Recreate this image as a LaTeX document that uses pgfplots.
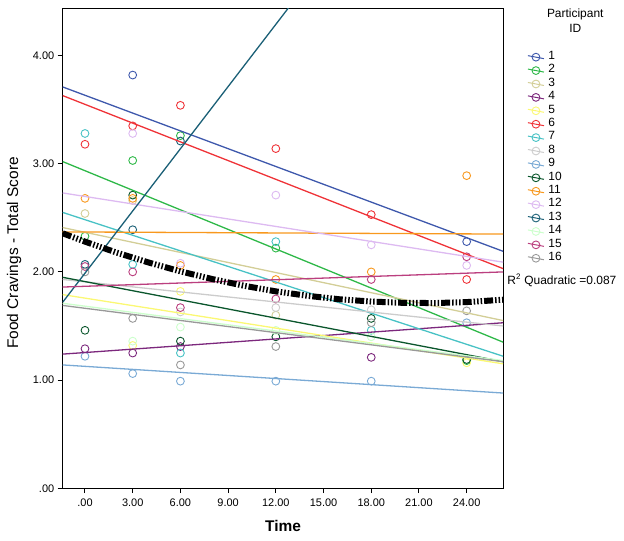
\documentclass[border=0pt]{standalone}
\usepackage{fontspec}
\setmainfont{Liberation Sans}
\usepackage{pgfplots}
\pgfplotsset{compat=1.18}

\definecolor{c1}{HTML}{3E58AC}
\definecolor{c2}{HTML}{2EB848}
\definecolor{c3}{HTML}{D3CE97}
\definecolor{c4}{HTML}{7C287D}
\definecolor{c5}{HTML}{FBF873}
\definecolor{c6}{HTML}{EF3338}
\definecolor{c7}{HTML}{48C2C5}
\definecolor{c8}{HTML}{CCCCCC}
\definecolor{c9}{HTML}{7AAAD5}
\definecolor{c10}{HTML}{0A562C}
\definecolor{c11}{HTML}{F8981D}
\definecolor{c12}{HTML}{DDBAF1}
\definecolor{c13}{HTML}{1A5F76}
\definecolor{c14}{HTML}{CCFFCC}
\definecolor{c15}{HTML}{BB3F7F}
\definecolor{c16}{HTML}{999999}

\pgfplotsset{
  pmark/.style={color=#1, only marks, mark=o, mark size=3.9bp,
    mark options={line width=0.9bp},
    legend image code/.code={\draw[mark repeat=2,mark phase=2,##1,sharp plot,line width=1bp]
      plot coordinates {(0bp,1.5bp) (8bp,0bp) (16bp,-1.5bp)};}},
  pline/.style={color=#1, line width=1.3bp, no marks, forget plot},
}

\begin{document}
\begin{tikzpicture}
\begin{axis}[
  scale only axis,
  width=440.3bp, height=480bp,
  xmin=-1.4, xmax=26.3,
  ymin=0, ymax=4.44,
  clip mode=individual,
  axis line style={black, line width=1bp},
  tick pos=left,
  tick align=outside,
  major tick length=5bp,
  tick style={black, line width=1bp},
  xtick={0,3,6,9,12,15,18,21,24},
  xticklabels={.00,3.00,6.00,9.00,12.00,15.00,18.00,21.00,24.00},
  ytick={0,1,2,3,4},
  yticklabels={.00,1.00,2.00,3.00,4.00},
  ticklabel style={font=\fontsize{11}{13}\selectfont},
  xticklabel style={yshift=-2bp},
  xlabel={\textbf{Time}},
  ylabel={Food Cravings - Total Score},
  x label style={at={(axis description cs:0.5,0)}, anchor=center, yshift=-38bp,
    font=\fontsize{15.5}{18}\selectfont},
  y label style={at={(axis description cs:-0.1106,0.49)}, anchor=center,
    font=\fontsize{15.5}{18}\selectfont},
  legend style={at={(1.0545,0.912)}, anchor=north west, draw=none, fill=none,
    font=\fontsize{12}{14}\selectfont, inner sep=0pt, row sep=0pt, column sep=4bp,
    nodes={inner sep=0pt, text height=9bp, text depth=4.4bp}},
  legend cell align=left,
]
% participant circles
\addplot[pmark=c1] coordinates {(3,3.82) (24,2.28)};
\addlegendentry{1}
\addplot[pmark=c2] coordinates {(0,2.33) (3,3.03) (6,3.26) (12,2.22) (24,1.18)};
\addlegendentry{2}
\addplot[pmark=c3] coordinates {(0,2.54) (3,2.66) (12,1.60)};
\addlegendentry{3}
\addplot[pmark=c4] coordinates {(0,1.29) (3,1.25) (6,1.31) (18,1.21)};
\addlegendentry{4}
\addplot[pmark=c5] coordinates {(3,1.32) (6,1.82) (24,1.16)};
\addlegendentry{5}
\addplot[pmark=c6] coordinates {(0,3.18) (3,3.35) (6,3.54) (12,3.14) (18,2.53) (24,1.93)};
\addlegendentry{6}
\addplot[pmark=c7] coordinates {(0,3.28) (3,2.07) (6,1.25) (12,2.28) (18,1.46)};
\addlegendentry{7}
\addplot[pmark=c8] coordinates {(6,1.63) (12,1.67) (18,1.65)};
\addlegendentry{8}
\addplot[pmark=c9] coordinates {(0,1.22) (3,1.06) (6,0.99) (12,0.99) (18,0.99) (24,1.53)};
\addlegendentry{9}
\addplot[pmark=c10] coordinates {(0,1.46) (3,2.71) (6,1.36) (12,1.40) (18,1.57) (24,1.19)};
\addlegendentry{10}
\addplot[pmark=c11] coordinates {(0,2.68) (3,2.68) (6,2.06) (12,1.93) (18,2.00) (24,2.89)};
\addlegendentry{11}
\addplot[pmark=c12] coordinates {(3,3.28) (6,2.08) (12,2.71) (18,2.25) (24,2.06)};
\addlegendentry{12}
\addplot[pmark=c13] coordinates {(0,2.07) (3,2.39) (6,3.21)};
\addlegendentry{13}
\addplot[pmark=c14] coordinates {(3,1.36) (6,1.49) (12,1.46) (18,1.40)};
\addlegendentry{14}
\addplot[pmark=c15] coordinates {(0,2.05) (3,2.00) (6,1.67) (12,1.75) (18,1.93) (24,2.14)};
\addlegendentry{15}
\addplot[pmark=c16] coordinates {(0,2.00) (3,1.57) (6,1.14) (12,1.31) (18,1.53) (24,1.64)};
\addlegendentry{16}

% participant fit lines
\addplot[pline=c1] coordinates {(-1.4,3.71) (26.3,2.19)};
\addplot[pline=c2] coordinates {(-1.4,3.02) (26.3,1.35)};
\addplot[pline=c3] coordinates {(-1.4,2.41) (26.3,1.55)};
\addplot[pline=c4] coordinates {(-1.4,1.24) (26.3,1.53)};
\addplot[pline=c5] coordinates {(-1.4,1.79) (26.3,1.15)};
\addplot[pline=c6] coordinates {(-1.4,3.63) (26.3,2.03)};
\addplot[pline=c7] coordinates {(-1.4,2.55) (26.3,1.22)};
\addplot[pline=c8] coordinates {(-1.4,1.93) (26.3,1.50)};
\addplot[pline=c9] coordinates {(-1.4,1.14) (26.3,0.88)};
\addplot[pline=c10] coordinates {(-1.4,1.95) (26.3,1.17)};
\addplot[pline=c11] coordinates {(-1.4,2.37) (26.3,2.35)};
\addplot[pline=c12] coordinates {(-1.4,2.73) (26.3,2.09)};
\addplot[pline=c13] coordinates {(-1.4,1.72) (26.3,7.03)};
\addplot[pline=c14] coordinates {(-1.4,1.71) (26.3,1.18)};
\addplot[pline=c15] coordinates {(-1.4,1.86) (26.3,2.00)};
\addplot[pline=c16] coordinates {(-1.4,1.69) (26.3,1.17)};

% total quadratic fit
\addplot[black, line width=6bp, no marks, forget plot,
  dash pattern=on 9bp off 2bp on 1.5bp off 2bp on 1.5bp off 2bp on 1.5bp off 2bp]
  coordinates {
    (-1.4,2.357) (0,2.280) (2,2.178) (4,2.087) (6,2.005) (8,1.934)
    (10,1.872) (12,1.820) (14,1.779) (16,1.747) (18,1.726) (20,1.714)
    (22,1.712) (24,1.721) (26.3,1.743)
  };

\node[anchor=west, font=\fontsize{12}{14}\selectfont, inner sep=0pt]
  at (rel axis cs:1.009,0.433) {R\textsuperscript{2} Quadratic =0.087};
\node[align=center, font=\fontsize{12}{15}\selectfont, inner sep=0pt]
  at (rel axis cs:1.1635,0.973) {Participant\\ID};
\end{axis}
\pgfresetboundingbox
\path (-62.7bp,-52bp) rectangle (561bp,488bp);
\end{tikzpicture}
\end{document}
